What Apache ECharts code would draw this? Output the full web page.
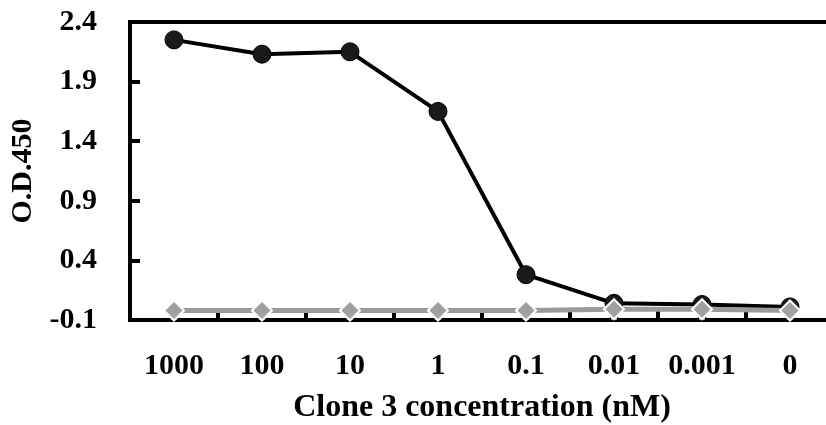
<!DOCTYPE html>
<html><head><meta charset="utf-8">
<script src="https://cdn.jsdelivr.net/npm/echarts@6/dist/echarts.min.js"></script>
<style>html,body{margin:0;padding:0;background:#fff}#c{width:826px;height:425px}</style>
</head><body><div id="c"></div>
<script>
var categories = ['1000', '100', '10', '1', '0.1', '0.01', '0.001', '0'];
var clone3 = [2.25, 2.13, 2.15, 1.65, 0.28, 0.04, 0.03, 0.01];
var controlA = [-0.02, -0.02, -0.02, -0.02, -0.02, -0.01, -0.01, -0.02];
var controlB = [-0.065, -0.065, -0.065, -0.065, -0.065, -0.065, -0.065, -0.065];
var yTicks = [-0.1, 0.4, 0.9, 1.4, 1.9, 2.4];

var font = '"Liberation Serif", "Times New Roman", serif';
var chart = echarts.init(document.getElementById('c'), null, {renderer: 'canvas'});
chart.setOption({
  animation: false,
  grid: {left: 130, top: 22, width: 704, bottom: 105, show: true, borderColor: '#000', borderWidth: 4,
    containLabel: false, outerBoundsMode: 'none'},
  xAxis: {
    type: 'category', data: categories, boundaryGap: true,
    name: 'Clone 3 concentration (nM)', nameLocation: 'middle', nameGap: 72,
    nameTextStyle: {fontFamily: font, fontWeight: 'bold', fontSize: 32, color: '#000'},
    axisLine: {show: true, onZero: false, lineStyle: {color: '#000', width: 4}},
    axisTick: {show: true, inside: true, length: 10, lineStyle: {color: '#000', width: 4}},
    axisLabel: {interval: 0, fontFamily: font, fontWeight: 'bold', fontSize: 30, color: '#000', margin: 31}
  },
  yAxis: {
    type: 'value', min: -0.1, max: 2.4, interval: 0.5,
    name: 'O.D.450', nameLocation: 'middle', nameGap: 88, nameRotate: 90,
    nameTextStyle: {fontFamily: font, fontWeight: 'bold', fontSize: 30, color: '#000'},
    axisLine: {show: true, onZero: false, lineStyle: {color: '#000', width: 4}},
    axisTick: {show: true, inside: true, length: 10, lineStyle: {color: '#000', width: 4}},
    splitLine: {show: false},
    axisLabel: {fontFamily: font, fontWeight: 'bold', fontSize: 30, color: '#000', margin: 33,
      formatter: function (v) { return v.toFixed(1); }}
  },
  series: [
    {type: 'line', data: clone3, symbol: 'circle', symbolSize: 18, z: 3,
      lineStyle: {color: '#000', width: 4}, itemStyle: {color: '#1a1a1a', borderColor: '#000', borderWidth: 1}},
    {type: 'line', data: controlB, symbol: 'triangle', symbolSize: 9, z: 4,
      lineStyle: {opacity: 0}, itemStyle: {color: '#fff', borderColor: '#000', borderWidth: 1.5}},
    {type: 'line', data: controlA, symbol: 'diamond', symbolSize: 20, z: 5,
      lineStyle: {color: '#9a9a9a', width: 5}, itemStyle: {color: '#a0a0a0', borderColor: '#fff', borderWidth: 2}}
  ]
});
</script></body></html>
